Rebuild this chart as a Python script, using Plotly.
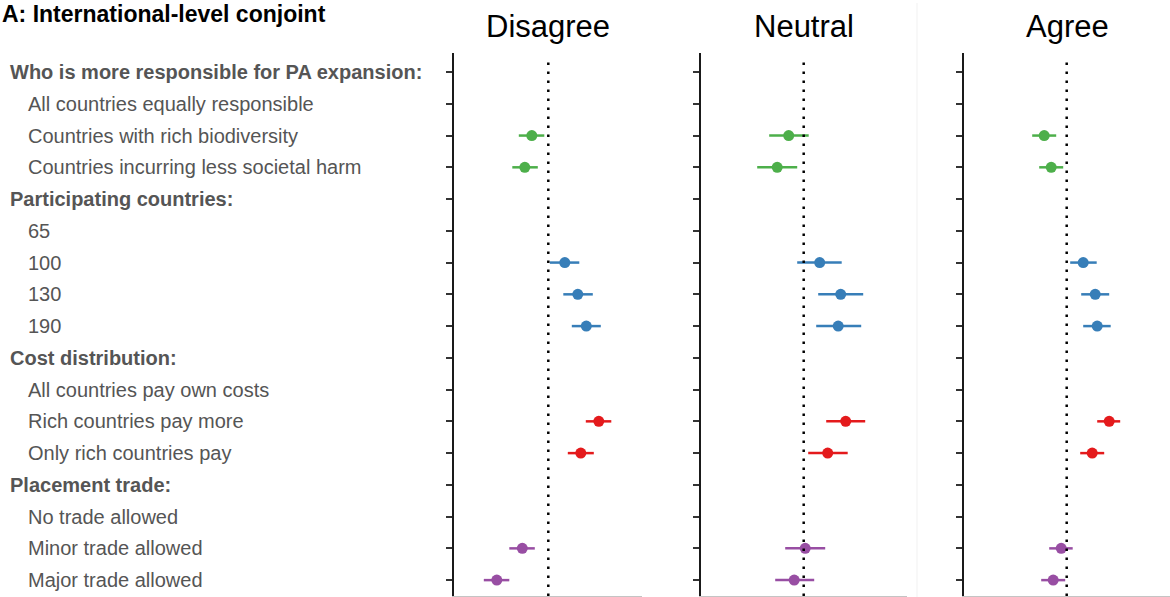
import plotly.graph_objects as go

W, H = 1170, 597

# ---------------- data ----------------
title_text = "A: International-level conjoint"
panel_titles = ["Disagree", "Neutral", "Agree"]

labels = [
    "Who is more responsible for PA expansion:",
    "All countries equally responsible",
    "Countries with rich biodiversity",
    "Countries incurring less societal harm",
    "Participating countries:",
    "65",
    "100",
    "130",
    "190",
    "Cost distribution:",
    "All countries pay own costs",
    "Rich countries pay more",
    "Only rich countries pay",
    "Placement trade:",
    "No trade allowed",
    "Minor trade allowed",
    "Major trade allowed",
]
headers = [
    "Who is more responsible for PA expansion:",
    "Participating countries:",
    "Cost distribution:",
    "Placement trade:",
]

resp_levels = ["Countries with rich biodiversity", "Countries incurring less societal harm"]
part_levels = ["100", "130", "190"]
cost_levels = ["Rich countries pay more", "Only rich countries pay"]
trade_levels = ["Minor trade allowed", "Major trade allowed"]

# Disagree
dis_resp_est = [-0.033, -0.047]
dis_resp_lo = [-0.059, -0.072]
dis_resp_hi = [-0.008, -0.021]
dis_part_est = [0.033, 0.059, 0.076]
dis_part_lo = [0.003, 0.030, 0.047]
dis_part_hi = [0.062, 0.089, 0.105]
dis_cost_est = [0.101, 0.065]
dis_cost_lo = [0.075, 0.039]
dis_cost_hi = [0.126, 0.091]
dis_trade_est = [-0.052, -0.103]
dis_trade_lo = [-0.078, -0.129]
dis_trade_hi = [-0.027, -0.078]

# Neutral
neu_resp_est = [-0.030, -0.053]
neu_resp_lo = [-0.069, -0.093]
neu_resp_hi = [0.010, -0.013]
neu_part_est = [0.032, 0.074, 0.069]
neu_part_lo = [-0.013, 0.029, 0.025]
neu_part_hi = [0.076, 0.119, 0.115]
neu_cost_est = [0.084, 0.048]
neu_cost_lo = [0.045, 0.009]
neu_cost_hi = [0.123, 0.088]
neu_trade_est = [0.003, -0.019]
neu_trade_lo = [-0.037, -0.057]
neu_trade_hi = [0.043, 0.021]

# Agree
agr_resp_est = [-0.045, -0.031]
agr_resp_lo = [-0.069, -0.055]
agr_resp_hi = [-0.021, -0.007]
agr_part_est = [0.033, 0.057, 0.061]
agr_part_lo = [0.007, 0.029, 0.033]
agr_part_hi = [0.060, 0.085, 0.088]
agr_cost_est = [0.085, 0.051]
agr_cost_lo = [0.061, 0.027]
agr_cost_hi = [0.107, 0.075]
agr_trade_est = [-0.011, -0.027]
agr_trade_lo = [-0.035, -0.051]
agr_trade_hi = [0.012, -0.003]

group_colors = ["#4daf4a", "#377eb8", "#e41a1c", "#984ea3"]

panels = [
    [(resp_levels, dis_resp_est, dis_resp_lo, dis_resp_hi),
     (part_levels, dis_part_est, dis_part_lo, dis_part_hi),
     (cost_levels, dis_cost_est, dis_cost_lo, dis_cost_hi),
     (trade_levels, dis_trade_est, dis_trade_lo, dis_trade_hi)],
    [(resp_levels, neu_resp_est, neu_resp_lo, neu_resp_hi),
     (part_levels, neu_part_est, neu_part_lo, neu_part_hi),
     (cost_levels, neu_cost_est, neu_cost_lo, neu_cost_hi),
     (trade_levels, neu_trade_est, neu_trade_lo, neu_trade_hi)],
    [(resp_levels, agr_resp_est, agr_resp_lo, agr_resp_hi),
     (part_levels, agr_part_est, agr_part_lo, agr_part_hi),
     (cost_levels, agr_cost_est, agr_cost_lo, agr_cost_hi),
     (trade_levels, agr_trade_est, agr_trade_lo, agr_trade_hi)],
]

# ---------------- layout geometry (pixels) ----------------
panel_px = [(454, 642, 548.3), (701, 907, 803.7), (964, 1170, 1066.7)]
px_per_unit = 500.0
y_top_px, y_bot_px = 53, 596

fig = go.Figure()

for p, groups in enumerate(panels):
    xa = "x" if p == 0 else f"x{p+1}"
    ya = "y" if p == 0 else f"y{p+1}"
    for g, (lv, est, lo, hi) in enumerate(groups):
        fig.add_trace(go.Scatter(
            x=est, y=lv, mode="markers",
            xaxis=xa, yaxis=ya,
            marker=dict(size=11, color=group_colors[g], line=dict(width=0)),
            error_x=dict(type="data", symmetric=False,
                         array=[h - e for h, e in zip(hi, est)],
                         arrayminus=[e - l for e, l in zip(est, lo)],
                         color=group_colors[g], thickness=2.5, width=0),
            showlegend=False, hoverinfo="skip",
        ))

layout = dict(
    width=W, height=H,
    margin=dict(l=0, r=0, t=0, b=0),
    paper_bgcolor="white", plot_bgcolor="white",
    font=dict(family="Liberation Sans, Arial, sans-serif"),
    showlegend=False,
)

shapes = []
annotations = []
ydom = [1 - y_bot_px / H, 1 - y_top_px / H]
for p, (l_px, r_px, z_px) in enumerate(panel_px):
    sfx = "" if p == 0 else str(p + 1)
    x0 = -(z_px - l_px) / px_per_unit
    x1 = (r_px - z_px) / px_per_unit
    layout["xaxis" + sfx] = dict(
        domain=[l_px / W, r_px / W], range=[x0, x1],
        showticklabels=False, showgrid=False, zeroline=False,
        showline=True, linecolor="#c4c4c4", linewidth=1, ticks="",
        anchor="y" + sfx, fixedrange=True,
    )
    layout["yaxis" + sfx] = dict(
        domain=ydom, type="category", categoryarray=labels, categoryorder="array",
        range=[len(labels) - 1 + 0.5, -0.6],
        showticklabels=False, showgrid=False, zeroline=False,
        showline=True, linecolor="#1a1a1a", linewidth=2,
        ticks="outside", ticklen=6, tickwidth=2, tickcolor="#333333",
        anchor="x" + sfx, fixedrange=True,
    )
    shapes.append(dict(
        type="line", xref="x" + sfx, yref=("y" + sfx) + " domain",
        x0=0, x1=0, y0=0, y1=0.99,
        line=dict(color="black", width=2.5, dash="2.5px,6.5px"),
    ))
    annotations.append(dict(
        text=panel_titles[p], xref="paper", yref="paper",
        x=(l_px + r_px) / 2 / W, y=1 - 27 / H, xanchor="center", yanchor="middle",
        showarrow=False, font=dict(size=31, color="black"),
    ))

# faint separator line
shapes.append(dict(type="line", xref="paper", yref="paper",
                   x0=917 / W, x1=917 / W, y0=0, y1=1 - 3 / H,
                   line=dict(color="#f1f1f1", width=1)))

for i, lab in enumerate(labels):
    bold = lab in headers
    annotations.append(dict(
        text=f"<b>{lab}</b>" if bold else lab,
        xref="paper", yref="y", x=(8 if bold else 26) / W, y=i,
        xanchor="left", yanchor="middle", showarrow=False,
        font=dict(size=20, color="#555555"),
    ))

annotations.append(dict(
    text=f"<b>{title_text}</b>", xref="paper", yref="paper",
    x=0, y=1 - 14 / H, xanchor="left", yanchor="middle",
    showarrow=False, font=dict(size=23, color="black"),
))

layout["shapes"] = shapes
layout["annotations"] = annotations
fig.update_layout(**layout)

fig.write_html("out.html",
               config={"displayModeBar": False, "staticPlot": True},
               post_script="document.body.style.margin='0';document.body.style.overflow='hidden';")
